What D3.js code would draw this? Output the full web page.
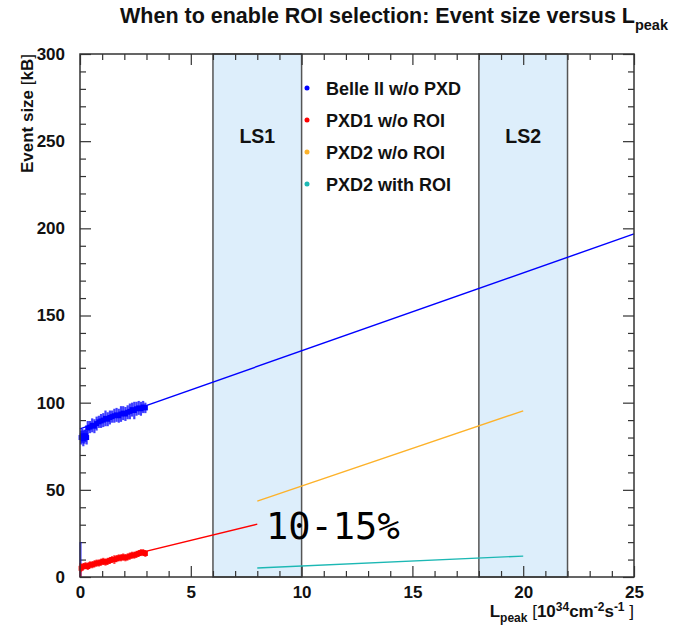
<!DOCTYPE html>
<html>
<head>
<meta charset="utf-8">
<script src="https://cdn.jsdelivr.net/npm/d3@7"></script>
<style>
  body { margin: 0; background: #fff; }
  svg { font-family: "Liberation Sans", Arial, sans-serif; }
</style>
</head>
<body>
<div id="chart"></div>
<script>
// measured points (Lpeak, event size, error) for the first 3 units of luminosity
let belleData = [
  [0.02, 10, 10],
  [0.05, 80, 4], [0.1, 81, 4], [0.15, 79.5, 4.5], [0.2, 80.5, 4], [0.25, 81, 3.5], [0.3, 80, 4],
  [0.35, 85.5, 4], [0.45, 86, 3.5], [0.55, 87, 4], [0.65, 86.5, 4], [0.75, 88, 4], [0.85, 89, 3.5],
  [0.95, 89.5, 4], [1.05, 90, 4], [1.15, 91, 4.5], [1.25, 90.5, 4], [1.35, 91.5, 4], [1.45, 92, 3.5],
  [1.55, 92.5, 4], [1.65, 93, 4], [1.75, 92.5, 4], [1.85, 93.5, 4.5], [1.95, 94, 4], [2.05, 93.5, 4],
  [2.15, 94.5, 4], [2.25, 95, 4.5], [2.35, 96, 4], [2.45, 95.5, 5], [2.55, 96.5, 4], [2.65, 97, 4],
  [2.75, 96.5, 4], [2.85, 97.5, 3.5], [2.95, 97, 3]
];
let pxd1Data = [
  [0.02, 4, 4],
  [0.05, 5, 2], [0.15, 6, 2], [0.25, 6.5, 2], [0.35, 6, 2], [0.45, 7, 2], [0.55, 7, 2],
  [0.65, 7.5, 2], [0.75, 8, 2], [0.85, 8, 2], [0.95, 8.5, 2], [1.05, 9, 2], [1.15, 8.5, 2],
  [1.25, 9, 2], [1.35, 9.5, 2], [1.45, 10, 2], [1.55, 10, 2.5], [1.65, 10.5, 2], [1.75, 11, 2],
  [1.85, 11, 2], [1.95, 11.5, 2], [2.05, 11, 2], [2.15, 11.5, 2], [2.25, 12, 2],
  [2.35, 12.5, 2], [2.45, 12.5, 2], [2.55, 13, 2], [2.65, 13.5, 2], [2.75, 14, 2],
  [2.85, 14, 2], [2.95, 13.5, 2]
];

// extrapolated lines: [x0, y0, x1, y1]
let belleFit = [0, 85, 25, 196.8];
let pxd1Fit = [0, 5.5, 8, 30.3];
let pxd2Fit = [8, 43.5, 20, 95.3];
let pxd2RoiFit = [8, 5.2, 20, 12];

// long shutdown periods
let shutdowns = [
  { label: "LS1", from: 6, to: 10 },
  { label: "LS2", from: 18, to: 22 }
];

let legendLabels = ["Belle II w/o PXD", "PXD1 w/o ROI", "PXD2 w/o ROI", "PXD2 with ROI"];
let legendColors = ["#0000ff", "#ff0000", "#fdb22a", "#1cb8b4"];

let xTicks = [0, 5, 10, 15, 20, 25];
let yTicks = [0, 50, 100, 150, 200, 250, 300];

let width = 686;
let height = 631;
let margin = { top: 54, right: 52, bottom: 54, left: 80 };

let svg = d3.select("#chart").append("svg")
  .attr("width", width)
  .attr("height", height);

let x = d3.scaleLinear().domain([0, 25]).range([margin.left, width - margin.right]);
let y = d3.scaleLinear().domain([0, 300]).range([height - margin.bottom, margin.top]);

// shutdown bands
svg.selectAll(".band")
  .data(shutdowns).enter().append("rect")
  .attr("x", d => x(d.from))
  .attr("y", y(300))
  .attr("width", d => x(d.to) - x(d.from))
  .attr("height", y(0) - y(300))
  .attr("fill", "#ddeefb")
  .attr("stroke", "#555")
  .attr("stroke-width", 1.5);

svg.selectAll(".bandLabel")
  .data(shutdowns).enter().append("text")
  .attr("x", d => x((d.from + d.to) / 2))
  .attr("y", 143)
  .attr("text-anchor", "middle")
  .attr("font-weight", "bold")
  .attr("font-size", 19.5)
  .attr("fill", "#111")
  .text(d => d.label);

// axes: major and minor ticks point inwards on all four sides
let minorX = d3.range(0, 26, 1).filter(v => v % 5 != 0);
let minorY = d3.range(0, 301, 10).filter(v => v % 50 != 0);

function drawAxis(axis, tx, ty, labels) {
  let g = svg.append("g")
    .attr("transform", "translate(" + tx + "," + ty + ")")
    .call(axis);
  g.select(".domain").remove();
  g.selectAll("line").attr("stroke", "#333").attr("stroke-width", 1.2);
  g.selectAll("text")
    .attr("font-size", 17)
    .attr("font-weight", "bold")
    .attr("font-family", "Liberation Sans, Arial, sans-serif")
    .attr("fill", "#111");
  if (!labels) g.selectAll("text").remove();
  return g;
}

drawAxis(d3.axisBottom(x).tickValues(xTicks).tickSize(-11).tickPadding(9).tickFormat(d3.format("d")), 0, y(0), true);
drawAxis(d3.axisBottom(x).tickValues(minorX).tickSize(-6), 0, y(0), false);
drawAxis(d3.axisTop(x).tickValues(xTicks).tickSize(-11), 0, y(300), false);
drawAxis(d3.axisTop(x).tickValues(minorX).tickSize(-6), 0, y(300), false);
drawAxis(d3.axisLeft(y).tickValues(yTicks).tickSize(-11).tickPadding(15).tickFormat(d3.format("d")), x(0), 0, true);
drawAxis(d3.axisLeft(y).tickValues(minorY).tickSize(-6), x(0), 0, false);
drawAxis(d3.axisRight(y).tickValues(yTicks).tickSize(-11), x(25), 0, false);
drawAxis(d3.axisRight(y).tickValues(minorY).tickSize(-6), x(25), 0, false);

// fit lines
let fits = [belleFit, pxd1Fit, pxd2Fit, pxd2RoiFit];
svg.selectAll(".fit")
  .data(fits).enter().append("line")
  .attr("x1", d => x(d[0]))
  .attr("y1", d => y(d[1]))
  .attr("x2", d => x(d[2]))
  .attr("y2", d => y(d[3]))
  .attr("stroke", (d, i) => legendColors[i])
  .attr("stroke-width", 1.4);

// measured points with error bars
function drawPoints(data, color) {
  let g = svg.append("g");
  g.selectAll("line")
    .data(data).enter().append("line")
    .attr("x1", d => x(d[0]))
    .attr("x2", d => x(d[0]))
    .attr("y1", d => y(d[1] - d[2]))
    .attr("y2", d => y(d[1] + d[2]))
    .attr("stroke", color)
    .attr("stroke-width", 2.2)
    .attr("opacity", 0.75);
  g.selectAll("rect")
    .data(data.slice(1)).enter().append("rect")
    .attr("x", d => x(d[0]) - 2.5)
    .attr("y", d => y(d[1]) - 2.5)
    .attr("width", 5)
    .attr("height", 5)
    .attr("fill", color);
}
drawPoints(belleData, legendColors[0]);
drawPoints(pxd1Data, legendColors[1]);

// frame
svg.append("rect")
  .attr("x", x(0))
  .attr("y", y(300))
  .attr("width", x(25) - x(0))
  .attr("height", y(0) - y(300))
  .attr("fill", "none")
  .attr("stroke", "#333")
  .attr("stroke-width", 1.5);

// legend
let legend = svg.selectAll(".legend")
  .data(legendLabels).enter().append("g")
  .attr("transform", (d, i) => "translate(307," + (88 + i * 32) + ")");
legend.append("circle")
  .attr("r", 2.5)
  .attr("fill", (d, i) => legendColors[i]);
legend.append("text")
  .attr("x", 19)
  .attr("y", 6.5)
  .attr("font-size", 18)
  .attr("font-weight", "bold")
  .attr("fill", "#111")
  .text(d => d);

// title
let title = svg.append("text")
  .attr("x", 120)
  .attr("y", 23)
  .attr("font-size", 21.5)
  .attr("font-weight", "bold")
  .attr("fill", "#111");
title.append("tspan").text("When to enable ROI selection: Event size versus L");
title.append("tspan").attr("font-size", 14.5).attr("dy", 7).text("peak");

// y axis title
let yt = svg.append("text")
  .attr("transform", "translate(33,54) rotate(-90)")
  .attr("text-anchor", "end")
  .attr("font-size", 17)
  .attr("font-weight", "bold")
  .attr("fill", "#111");
yt.append("tspan").text("Event size ");
yt.append("tspan").attr("font-weight", "normal").text("[");
yt.append("tspan").text("kB");
yt.append("tspan").attr("font-weight", "normal").text("]");

// x axis title
let xt = svg.append("text")
  .attr("x", x(25))
  .attr("y", 617)
  .attr("text-anchor", "end")
  .attr("font-size", 17)
  .attr("font-weight", "bold")
  .attr("fill", "#111");
xt.append("tspan").text("L");
xt.append("tspan").attr("font-size", 12).attr("dy", 5).text("peak");
xt.append("tspan").attr("dy", -5).attr("font-weight", "normal").text("  [");
xt.append("tspan").text("10");
xt.append("tspan").attr("font-size", 12).attr("dy", -6).text("34");
xt.append("tspan").attr("dy", 6).text("cm");
xt.append("tspan").attr("font-size", 12).attr("dy", -6).text("-2");
xt.append("tspan").attr("dy", 6).text("s");
xt.append("tspan").attr("font-size", 12).attr("dy", -6).text("-1");
xt.append("tspan").attr("dy", 6).attr("font-weight", "normal").text(" ]");

// annotation
svg.append("text")
  .attr("x", 266)
  .attr("y", 539)
  .attr("font-family", "DejaVu Sans Mono, monospace")
  .attr("font-size", 37)
  .attr("fill", "#000")
  .text("10-15%");
</script>
</body>
</html>
